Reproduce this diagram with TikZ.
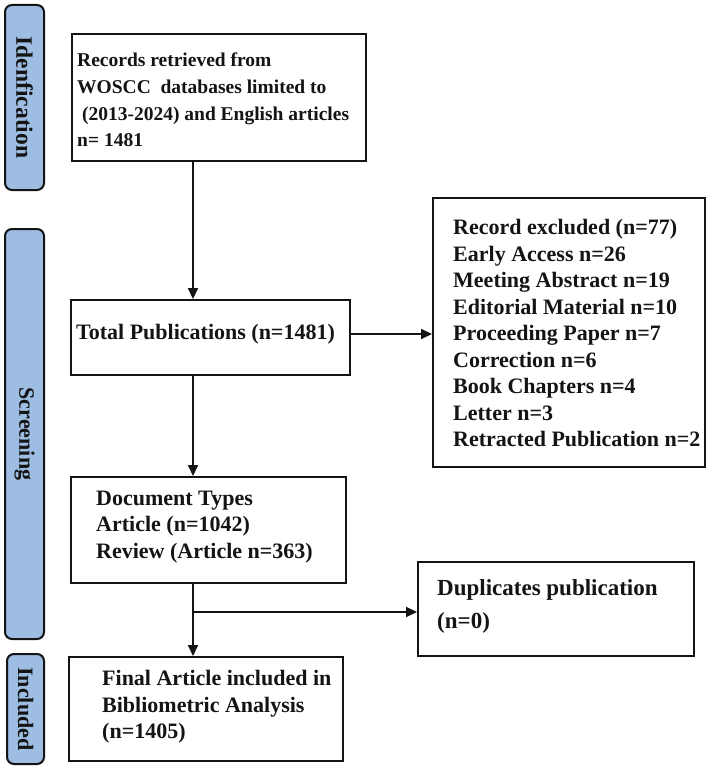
\documentclass[tikz,border=0pt]{standalone}
\usepackage{fontspec}
\setmainfont{Liberation Serif}
\usetikzlibrary{arrows.meta}
\definecolor{sideblue}{RGB}{157,189,226}
\definecolor{ink}{RGB}{20,20,20}
\begin{document}
\begin{tikzpicture}[x=1pt,y=-1pt,
  box/.style={draw=ink, line width=2pt, rectangle, inner sep=0pt, anchor=north west},
  txt/.style={anchor=west, align=left, inner sep=0pt, text=ink, font=\fontsize{22}{26.6}\selectfont\bfseries},
  side/.style={draw=ink, fill=sideblue, line width=2pt, rounded corners=7pt, anchor=north west, inner sep=0pt, text=ink, font=\fontsize{22}{26}\selectfont\bfseries},
  arr/.style={draw=ink, line width=2pt, -{Triangle[length=11pt,width=10pt]}},
  link/.style={draw=ink, line width=2pt}]
\useasboundingbox[fill=white] (0,0) rectangle (709,768);

% side bars
\node[side, font=\fontsize{23.5}{26}\selectfont\bfseries, minimum width=39pt, minimum height=185pt] (sid) at (4,4) {\rotatebox{-90}{Idenfication}};
\node[side, minimum width=39pt, minimum height=410pt] (sscr) at (4,228) {\rotatebox{-90}{Screening}};
\node[side, minimum width=37pt, minimum height=110pt] (sinc) at (6,653) {\rotatebox{-90}{Included}};

% boxes
\node[box, minimum width=294pt, minimum height=127pt] (rec) at (71,33) {};
\node[txt, font=\fontsize{19.5}{26.7}\selectfont\bfseries] (rect) at (77,100) {Records retrieved from\\WOSCC\ \ databases limited to\\\ (2013-2024) and English articles\\n= 1481};

\node[box, minimum width=279pt, minimum height=75pt] (tot) at (70,299) {};
\node[txt] (tott) at (76,334) {Total Publications (n=1481)};

\node[box, minimum width=272pt, minimum height=269pt] (exc) at (432,197) {};
\node[txt, font=\fontsize{22}{26.5}\selectfont\bfseries] (exct) at (453,333) {Record excluded (n=77)\\Early Access n=26\\Meeting Abstract n=19\\Editorial Material n=10\\Proceeding Paper n=7\\Correction n=6\\Book Chapters n=4\\Letter n=3\\Retracted Publication n=2};

\node[box, minimum width=275pt, minimum height=106pt] (doc) at (70,476) {};
\node[txt] (doct) at (96,527) {Document Types\\Article (n=1042)\\Review (Article n=363)};

\node[box, minimum width=276pt, minimum height=94pt] (dup) at (417,561) {};
\node[txt, font=\fontsize{23}{33}\selectfont\bfseries] (dupt) at (437,606) {Duplicates publication\\(n=0)};

\node[box, minimum width=274pt, minimum height=104pt] (fin) at (68,656) {};
\node[txt] (fint) at (102,707) {Final Article included in\\Bibliometric Analysis\\(n=1405)};

% connectors
\coordinate (ax) at (193,0);
\coordinate (ay) at (0,334);
\coordinate (br) at (193,612);
\draw[arr] (rec.south -| ax) -- (tot.north -| ax);
\draw[arr] (tot.east |- ay) -- (exc.west |- ay);
\draw[arr] (tot.south -| ax) -- (doc.north -| ax);
\draw[link] (doc.south -| ax) -- (br);
\draw[arr] (br) -- (fin.north -| ax);
\draw[arr] (br) -- (br -| dup.west);
\end{tikzpicture}
\end{document}
